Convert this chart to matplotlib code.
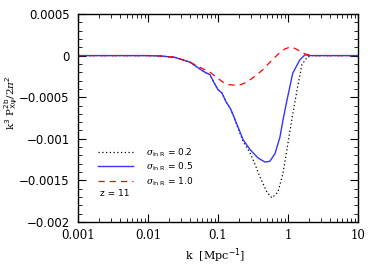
import numpy as np
import matplotlib
matplotlib.use("Agg")
import matplotlib.pyplot as plt
from matplotlib.ticker import FuncFormatter, MultipleLocator, LogLocator, NullFormatter

# sigma_lnR = 1.0 (red dashed)
k_red = [0.001, 0.005, 0.01, 0.015, 0.024, 0.04, 0.055, 0.077, 0.095, 0.118, 0.145,
         0.175, 0.21, 0.24, 0.3, 0.36, 0.45, 0.55, 0.65, 0.77, 0.9, 1.05, 1.14, 1.3,
         1.5, 1.75, 2.06, 2.5, 4, 10]
p_red = [0, 0, 0, -0.000005, -0.00002, -0.00008, -0.00014, -0.0002, -0.00026, -0.00032,
         -0.00035, -0.000355, -0.00035, -0.00033, -0.00028, -0.00023, -0.00016, -0.00008,
         -0.00002, 0.00004, 0.00008, 0.0001, 0.0001, 0.00008, 0.00005, 0.00002, 0.000005,
         0, 0, 0]

# sigma_lnR = 0.5 (blue solid)
k_blue = [0.001, 0.01, 0.015, 0.024, 0.04, 0.055, 0.065, 0.077, 0.087, 0.1, 0.114, 0.131,
          0.149, 0.164, 0.187, 0.228, 0.287, 0.373, 0.47, 0.55, 0.65, 0.767, 0.85, 0.97,
          1.17, 1.48, 1.75, 2.06, 3, 10]
p_blue = [0, 0, -0.000005, -0.00002, -0.00008, -0.00016, -0.0002, -0.00023, -0.00032,
          -0.00041, -0.00045, -0.00056, -0.00063, -0.00071, -0.00083, -0.00101, -0.00113,
          -0.00123, -0.00128, -0.00127, -0.00118, -0.00098, -0.00077, -0.00053, -0.00021,
          -0.00005, 0.00001, 0, 0, 0]

# sigma_lnR = 0.2 (black dotted)
k_black = [0.001, 0.01, 0.015, 0.024, 0.04, 0.055, 0.065, 0.077, 0.087, 0.1, 0.114, 0.131,
           0.149, 0.164, 0.187, 0.228, 0.287, 0.339, 0.398, 0.5, 0.59, 0.72, 0.85, 1.0,
           1.17, 1.37, 1.58, 1.87, 2.2, 3, 10]
p_black = [0, 0, -0.000005, -0.00002, -0.00008, -0.00016, -0.0002, -0.00023, -0.00032,
           -0.00041, -0.00045, -0.00056, -0.00063, -0.00071, -0.00084, -0.00103, -0.00117,
           -0.00131, -0.00146, -0.00164, -0.00171, -0.00164, -0.00141, -0.00105, -0.0007,
           -0.00038, -0.00011, -0.00002, 0, 0, 0]

labels = [r"$\sigma_{\rm ln\ R}$ = 0.2", r"$\sigma_{\rm ln\ R}$ = 0.5", r"$\sigma_{\rm ln\ R}$ = 1.0"]

plt.rcParams['font.family'] = ['DejaVu Serif']
plt.rcParams['mathtext.fontset'] = 'custom'
plt.rcParams['mathtext.rm'] = 'DejaVu Sans'
plt.rcParams['mathtext.it'] = 'DejaVu Serif:italic'

fig = plt.figure(figsize=(3.91, 2.64), dpi=100)
ax = fig.add_axes([78 / 391, 42 / 264, 280 / 391, 208 / 264])

ax.plot(k_black, p_black, color='black', lw=0.9, ls=(0, (1, 2)), label=labels[0])
ax.plot(k_blue, p_blue, color='#3535ff', lw=1.0, label=labels[1])
ax.plot(k_red, p_red, color='#ff0000', lw=0.9, ls=(0, (5, 4)), label=labels[2])

ax.set_xscale('log')
ax.set_xlim(0.001, 10)
ax.set_ylim(-0.002, 0.0005)

ax.yaxis.set_major_locator(MultipleLocator(0.0005))
ax.yaxis.set_minor_locator(MultipleLocator(0.0001))
ax.xaxis.set_major_locator(LogLocator(base=10))
ax.xaxis.set_minor_locator(LogLocator(base=10, subs=np.arange(2, 10)))
ax.xaxis.set_minor_formatter(NullFormatter())
ax.xaxis.set_major_formatter(FuncFormatter(lambda v, p: '%g' % v))
ax.yaxis.set_major_formatter(FuncFormatter(lambda v, p: ('%g' % v).replace('-', '\u2212') if abs(v) > 1e-12 else '0'))

ax.tick_params(which='both', direction='in', top=True, right=True)
ax.tick_params(which='major', length=6, width=0.8)
ax.tick_params(which='minor', length=3, width=0.6)
ax.tick_params(axis='x', pad=5, labelsize=8.5)
ax.tick_params(axis='y', pad=6, labelsize=8.5)
for t in ax.get_xticklabels():
    t.set_family('DejaVu Serif')
for t in ax.get_yticklabels():
    t.set_family('DejaVu Sans')
for s in ax.spines.values():
    s.set_linewidth(1.0)

ax.set_xlabel(r"k  [Mpc$^{-1}$]", fontsize=8, va='center')
ax.xaxis.set_label_coords(0.49, -0.163)
ax.set_ylabel(r"k$^3$ P$^{\rm 2b}_{\rm X\psi}$/2$\pi^2$", fontsize=7.5, va='center')
ax.yaxis.set_label_coords(-0.238, 0.575)

leg = ax.legend(loc='upper left', bbox_to_anchor=(0.072, 0.365), frameon=False,
                fontsize=6.5, handlelength=3.9, handletextpad=1.4, labelspacing=0.22,
                borderpad=0, borderaxespad=0)
for t in leg.get_texts():
    t.set_family('DejaVu Sans')
ax.text(0.079, 0.135, "z = 11", transform=ax.transAxes, fontsize=6.5, va='center',
        family='DejaVu Sans')

fig.savefig('out.png', dpi=100)
